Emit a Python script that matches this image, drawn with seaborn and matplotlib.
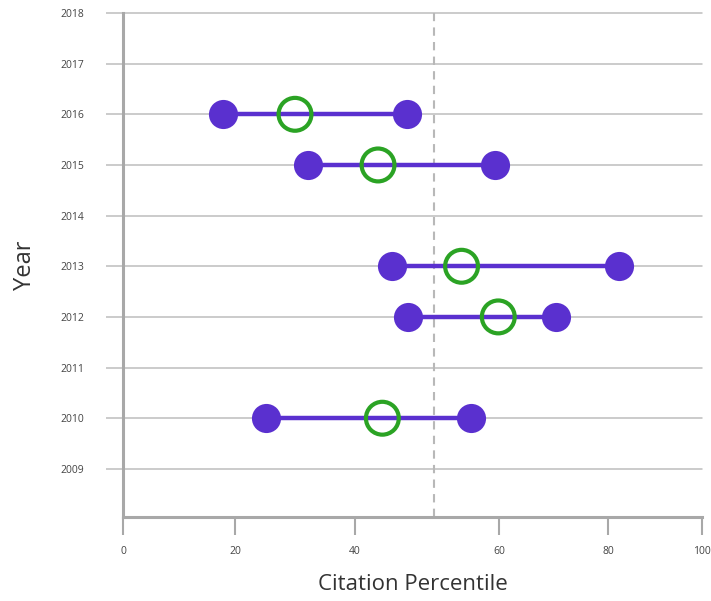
import numpy as np
import pandas as pd
import seaborn as sns
import matplotlib.pyplot as plt

years = [2016, 2015, 2013, 2012, 2010]
low = [17.8, 32.1, 45.2, 47.4, 25.2]
mid = [30.0, 43.2, 54.8, 59.9, 43.8]
high = [47.2, 59.4, 82.4, 70.5, 56.1]
x_ticks = [0, 20, 40, 60, 80, 100]
y_ticks = list(range(2009, 2019))
ref_line = 51

# the original axis is hand drawn, tick spacing is uneven
tick_pos = [123, 235, 355, 499, 608, 702]

def fwd(v):
    return np.interp(v, x_ticks, tick_pos)

def inv(p):
    return np.interp(p, tick_pos, x_ticks)

ends = pd.DataFrame({'Year': years * 2, 'Value': low + high})
centers = pd.DataFrame({'Year': years, 'Value': mid})

sns.set_style('white')
plt.rcParams['font.family'] = ['Open Sans', 'DejaVu Sans']

purple = '#5a30cf'
green = '#2ba324'

fig = plt.figure(figsize=(7.11, 6.01), dpi=100)
ax = fig.add_axes([123 / 711, 1 - 517 / 601, (702 - 123) / 711, (517 - 13) / 601])
ax.set_xscale('function', functions=(fwd, inv))
ax.set_xlim(0, 100)
ax.set_ylim(2008.05, 2018)

for y in y_ticks:
    ax.axhline(y, color='#bdbdbd', lw=1.1, zorder=0, clip_on=False)
ax.axvline(ref_line, color='#b8b8b8', lw=1.5, ls=(0, (4, 3)), zorder=0)

ax.hlines(years, low, high, color=purple, lw=3.2, zorder=2)
sns.scatterplot(data=ends, x='Value', y='Year', ax=ax, s=440, color=purple,
                edgecolor=purple, linewidth=0, zorder=3, legend=False)
sns.scatterplot(data=centers, x='Value', y='Year', ax=ax, s=560, facecolor='none',
                edgecolor=green, linewidth=3, zorder=4, legend=False)

ax.set_xticks(x_ticks)
ax.set_xticklabels([str(t) for t in x_ticks])
ax.set_yticks(y_ticks)
ax.set_yticklabels([str(t) for t in y_ticks])
ax.tick_params(axis='y', length=12, width=1.1, color='#bdbdbd', pad=16,
               labelsize=7.5, labelcolor='#444444', left=True)
ax.tick_params(axis='x', length=13, width=1.5, color='#a8a8a8', pad=8,
               labelsize=7.5, labelcolor='#444444', bottom=True)

for side in ['top', 'right']:
    ax.spines[side].set_visible(False)
for side in ['left', 'bottom']:
    ax.spines[side].set_color('#a8a8a8')
    ax.spines[side].set_linewidth(2.2)

ax.set_xlabel('Citation Percentile', fontsize=16, color='#333333', labelpad=12)
ax.set_ylabel('Year', fontsize=17, color='#333333', labelpad=17)

fig.savefig('out.png', dpi=100)
